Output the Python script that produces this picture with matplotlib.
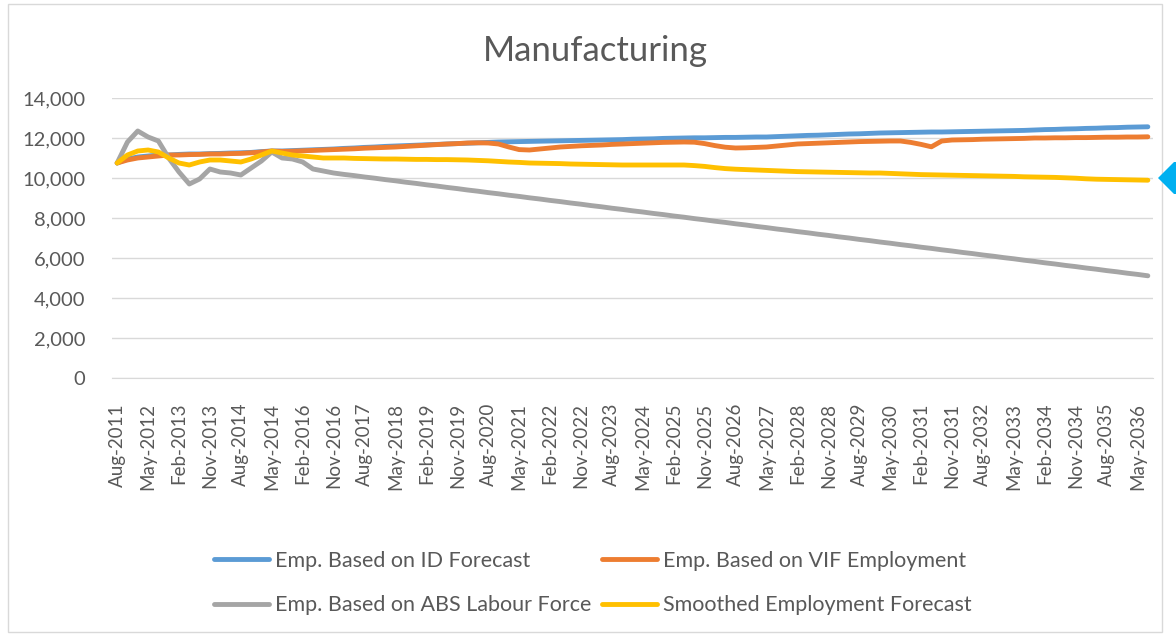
import matplotlib
matplotlib.use("Agg")
import matplotlib.pyplot as plt
import numpy as np
from matplotlib.patches import Rectangle, Polygon

# quarterly categories Aug-2011 .. Aug-2036 (101 points), every 3rd one labelled
tick_labels = ["Aug-2011", "May-2012", "Feb-2013", "Nov-2013", "Aug-2014", "May-2014",
               "Feb-2016", "Nov-2016", "Aug-2017", "May-2018", "Feb-2019", "Nov-2019",
               "Aug-2020", "May-2021", "Feb-2022", "Nov-2022", "Aug-2023", "May-2024",
               "Feb-2025", "Nov-2025", "Aug-2026", "May-2027", "Feb-2028", "Nov-2028",
               "Aug-2029", "May-2030", "Feb-2031", "Nov-2031", "Aug-2032", "May-2033",
               "Feb-2034", "Nov-2034", "Aug-2035", "May-2036"]

id_forecast = [10750, 10950, 11050, 11100, 11150, 11150, 11180, 11200, 11200, 11220,
               11230, 11250, 11260, 11280, 11320, 11350, 11350, 11370, 11390, 11410,
               11430, 11450, 11480, 11500, 11530, 11550, 11580, 11600, 11620, 11640,
               11660, 11680, 11700, 11720, 11740, 11760, 11780, 11800, 11810, 11820,
               11830, 11840, 11850, 11860, 11870, 11880, 11890, 11900, 11910, 11920,
               11940, 11950, 11960, 11980, 11990, 12000, 12010, 12010, 12020, 12030,
               12030, 12040, 12050, 12050, 12070, 12090, 12110, 12130, 12140, 12160,
               12180, 12200, 12210, 12230, 12250, 12260, 12270, 12280, 12290, 12300,
               12300, 12310, 12320, 12330, 12340, 12350, 12360, 12370, 12380, 12400,
               12420, 12430, 12450, 12460, 12480, 12490, 12510, 12520, 12540, 12550,
               12560]

vif_employment = [10750, 10900, 11000, 11050, 11100, 11150, 11150, 11170, 11180, 11200,
                  11200, 11220, 11230, 11260, 11300, 11350, 11330, 11340, 11360, 11380,
                  11400, 11420, 11440, 11460, 11490, 11510, 11530, 11550, 11580, 11610,
                  11640, 11670, 11700, 11720, 11750, 11760, 11750, 11700, 11550, 11420,
                  11400, 11450, 11500, 11550, 11580, 11610, 11630, 11650, 11680, 11700,
                  11720, 11740, 11760, 11780, 11790, 11800, 11790, 11720, 11620, 11540,
                  11500, 11510, 11530, 11550, 11600, 11650, 11700, 11720, 11740, 11760,
                  11780, 11800, 11820, 11830, 11840, 11850, 11850, 11780, 11680, 11560,
                  11850, 11900, 11910, 11920, 11940, 11950, 11960, 11970, 11980, 12000,
                  12000, 12010, 12010, 12020, 12020, 12030, 12040, 12040, 12050, 12050,
                  12060]

abs_labour = [10750, 11800, 12350, 12050, 11850, 11000, 10300, 9700, 9950, 10450,
              10300, 10250, 10150, 10500, 10850, 11300, 11000, 10950, 10800, 10450,
              10350, 10250, 10180, 10120, 10050, 9990, 9920, 9860, 9790, 9730,
              9660, 9600, 9530, 9470, 9400, 9340, 9270, 9210, 9140, 9080,
              9010, 8950, 8880, 8820, 8750, 8690, 8620, 8560, 8490, 8430,
              8360, 8300, 8230, 8170, 8100, 8040, 7970, 7910, 7840, 7780,
              7710, 7650, 7580, 7520, 7450, 7390, 7320, 7260, 7190, 7130,
              7060, 7000, 6930, 6870, 6800, 6740, 6670, 6610, 6540, 6480,
              6410, 6350, 6280, 6220, 6150, 6090, 6020, 5960, 5890, 5830,
              5760, 5700, 5630, 5570, 5500, 5440, 5370, 5310, 5240, 5180,
              5110]

smoothed = [10750, 11150, 11350, 11400, 11300, 11000, 10750, 10650, 10800, 10900,
            10900, 10850, 10800, 10950, 11150, 11350, 11250, 11150, 11100, 11050,
            11000, 11000, 11000, 10980, 10970, 10960, 10950, 10950, 10940, 10930,
            10930, 10920, 10920, 10910, 10900, 10880, 10860, 10830, 10800, 10780,
            10750, 10740, 10730, 10720, 10700, 10690, 10680, 10670, 10660, 10650,
            10650, 10650, 10650, 10650, 10650, 10650, 10620, 10580, 10520, 10470,
            10440, 10420, 10400, 10380, 10360, 10340, 10320, 10310, 10300, 10290,
            10280, 10270, 10260, 10250, 10250, 10230, 10210, 10190, 10170, 10160,
            10150, 10140, 10130, 10120, 10110, 10100, 10090, 10080, 10060, 10050,
            10040, 10030, 10010, 9990, 9960, 9940, 9930, 9920, 9910, 9900,
            9890]

series_names = ["Emp. Based on ID Forecast", "Emp. Based on VIF Employment",
                "Emp. Based on ABS Labour Force", "Smoothed Employment Forecast"]
colors = ["#5B9BD5", "#ED7D31", "#A5A5A5", "#FFC000"]

plt.rcParams['font.family'] = ['Lato', 'DejaVu Sans']
W, H = 1176, 639
fig = plt.figure(figsize=(W / 100, H / 100), dpi=100)

# outer chart border
fig.patches.append(Rectangle((8 / W, 1 - 632 / H), 1154 / W, 628 / H, transform=fig.transFigure,
                             fill=False, edgecolor="#D9D9D9", linewidth=1))

x0, x1, ytop, ybot = 112, 1153, 98, 378
ax = fig.add_axes([x0 / W, 1 - ybot / H, (x1 - x0) / W, (ybot - ytop) / H])

x = np.arange(len(id_forecast))
for vals, name, c in zip([id_forecast, vif_employment, abs_labour, smoothed], series_names, colors):
    ax.plot(x, vals, color=c, lw=3.5, label=name, solid_capstyle='round')

ax.set_xlim(-0.5, len(x) - 0.5)
ax.set_ylim(0, 14000)
ax.set_yticks(np.arange(0, 14001, 2000))
ax.set_yticklabels([f"{v:,}" for v in range(0, 14001, 2000)])
ax.set_xticks(x[::3][:len(tick_labels)])
ax.set_xticklabels(tick_labels, rotation=90)
ax.grid(axis='y', color="#D9D9D9", lw=1)
ax.set_axisbelow(True)
for s in ['top', 'right', 'left']:
    ax.spines[s].set_visible(False)
ax.spines['bottom'].set_color("#D9D9D9")
ax.tick_params(axis='both', length=0, labelcolor="#595959")
ax.tick_params(axis='y', pad=19, labelsize=14.5)
ax.tick_params(axis='x', pad=18, labelsize=13.5)

fig.text(595 / W, 1 - 51 / H, "Manufacturing", ha='center', va='center', fontsize=25, color="#595959")

handles, labels = ax.get_legend_handles_labels()
order = [0, 2, 1, 3]
fig.legend([handles[i] for i in order], [labels[i] for i in order], ncol=2, frameon=False,
           loc='upper left', bbox_to_anchor=(214 / W, 1 - 551 / H), borderpad=0, borderaxespad=0,
           handlelength=2.55, handletextpad=0.28, columnspacing=0.5, labelspacing=1.12,
           fontsize=15.5, labelcolor="#595959")

# blue pointer at the right edge
fig.patches.append(Polygon([(1158 / W, 1 - 178 / H), (1174 / W, 1 - 162 / H), (1176 / W, 1 - 162 / H),
                            (1176 / W, 1 - 194 / H), (1174 / W, 1 - 194 / H)],
                           closed=True, transform=fig.transFigure, facecolor="#00B0F0", edgecolor="none"))

fig.savefig("out.png", dpi=100)
